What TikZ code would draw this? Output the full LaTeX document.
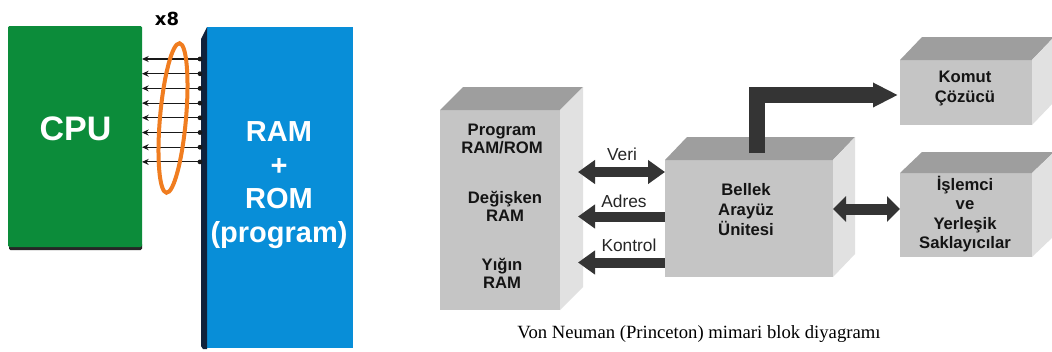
\documentclass[tikz,border=0pt]{standalone}
\usepackage{fontspec}
\setmainfont{Liberation Serif}
\newfontfamily\lsans{Liberation Sans}
\newfontfamily\dvsans{DejaVu Sans}
\usetikzlibrary{arrows.meta,calc}
\definecolor{cpugreen}{RGB}{12,140,58}
\definecolor{ramblue}{RGB}{8,142,216}
\definecolor{stripc}{RGB}{16,34,60}
\definecolor{busorange}{RGB}{240,125,32}
\definecolor{frontc}{RGB}{197,197,197}
\definecolor{topc}{RGB}{158,158,158}
\definecolor{sidec}{RGB}{225,225,225}
\definecolor{arrowc}{RGB}{52,52,52}
\begin{document}
\begin{tikzpicture}[x=0.75pt,y=-0.75pt,
  every node/.style={inner sep=0pt,outer sep=0pt},
  cpubox/.style={fill=cpugreen,rounded corners=1pt},
  rambox/.style={fill=ramblue},
  cputext/.style={text=white,font=\lsans\bfseries\fontsize{25.5pt}{30pt}\selectfont},
  ramtext/.style={text=white,align=center,font=\lsans\bfseries\fontsize{21.75pt}{25.3pt}\selectfont},
  xtext/.style={font=\dvsans\bfseries\fontsize{13.5pt}{16pt}\selectfont},
  bus/.style={draw=black!90,line width=0.8pt,-{Stealth[length=5pt,width=4.5pt]}},
  busring/.style={draw=busorange,line width=3pt},
  face/.style={fill=frontc},
  boxtext/.style={align=center,text=black!92,font=\lsans\bfseries\fontsize{12.5pt}{13.5pt}\selectfont},
  boxtextw/.style={boxtext,font=\lsans\bfseries\fontsize{12.5pt}{15pt}\selectfont},
  lbl/.style={text=black!85,font=\lsans\fontsize{13pt}{15pt}\selectfont},
  thin/.style={draw=arrowc,line width=7.5pt},
  lefttip/.style={thin,-{Triangle[length=12.75pt,width=17.25pt]}},
  bothtip/.style={thin,{Triangle[length=12.75pt,width=17.25pt]}-{Triangle[length=12.75pt,width=17.25pt]}},
  sidetip/.style={draw=arrowc,line width=8.25pt,{Triangle[length=9.75pt,width=18.75pt]}-{Triangle[length=9.75pt,width=18.75pt]}},
  benttip/.style={draw=arrowc,line width=12pt,line join=miter,-{Triangle[length=18.75pt,width=17.25pt]}},
  caption/.style={font=\fontsize{14pt}{16pt}\selectfont}
]
\useasboundingbox (0,0) rectangle (1052,351);
\fill[white] (0,0) rectangle (1052,351);

% ---------------- left: CPU and RAM+ROM ----------------
\fill[black!85,rounded corners=1pt] (9,243) rectangle (142,250);
\node[cpubox,minimum width=100.5pt,minimum height=165.75pt] (cpu) at (75,136.5) {};
\node[cputext] (cputxt) at (75.5,129) {CPU};

\node[rambox,minimum width=109.5pt,minimum height=240.75pt] (ram) at (280,187.5) {};
\fill[stripc] (201,39) -- (ram.north west) -- ([yshift=-0.75pt]ram.south west) -- (203,349) -- (201,346) -- cycle;
\node[ramtext] (ramtxt) at (279,185) {RAM\\+\\ROM\\(program)};

\coordinate (busR) at ($(ram.north west)+(-7,0)$);
\foreach \y in {59,73.7,88.4,103.1,117.8,132.5,147.2,161.9}{
  \draw[bus] (busR |- 0,\y) -- (cpu.east |- 0,\y);
  \fill[black!90] (busR |- 0,\y) circle (1.8pt);
}
\draw[busring] (173,118) ellipse [x radius=13,y radius=75,rotate=-5];
\node[xtext] (x8) at (167,19) {x8};

% ---------------- right: block diagram ----------------
% memory block
\node[face,minimum width=90pt,minimum height=150pt] (mem) at (500,210) {};
\fill[topc] (mem.north west) -- ++(23,-23) -- ($(mem.north east)+(23,-23)$) -- (mem.north east) -- cycle;
\fill[sidec] (mem.north east) -- ++(23,-23) -- ($(mem.south east)+(23,-23)$) -- (mem.south east) -- cycle;
\node[boxtext] (prog) at (502,139) {Program\\RAM/ROM};
\node[boxtext] (degis) at (505,206) {Değişken\\RAM};
\node[boxtext] (yigin) at (502,273.5) {Yığın\\RAM};

% memory interface unit
\node[face,minimum width=126pt,minimum height=87.75pt] (bellek) at (749,218.5) {};
\fill[topc] (bellek.north west) -- ++(22,-23) -- ($(bellek.north east)+(22,-23)$) -- (bellek.north east) -- cycle;
\fill[sidec] (bellek.north east) -- ++(22,-23) -- ($(bellek.south east)+(22,-23)$) -- (bellek.south east) -- cycle;
\node[boxtextw] (bellektxt) at (746,210) {Bellek\\Arayüz\\Ünitesi};

% instruction decoder
\node[face,minimum width=99pt,minimum height=48.75pt] (komut) at (966,92.5) {};
\fill[topc] (komut.north west) -- ++(22,-23) -- ($(komut.north east)+(22,-23)$) -- (komut.north east) -- cycle;
\fill[sidec] (komut.north east) -- ++(22,-23) -- ($(komut.south east)+(22,-23)$) -- (komut.south east) -- cycle;
\node[boxtextw] (komuttxt) at (965,88) {Komut\\Çözücü};

% processor and registers
\node[face,minimum width=99pt,minimum height=63pt] (islem) at (966,215) {};
\fill[topc] (islem.north west) -- ++(22,-21) -- ($(islem.north east)+(22,-21)$) -- (islem.north east) -- cycle;
\fill[sidec] (islem.north east) -- ++(22,-21) -- ($(islem.south east)+(22,-21)$) -- (islem.south east) -- cycle;
\node[boxtext,font=\lsans\bfseries\fontsize{12.5pt}{14.6pt}\selectfont] (islemtxt) at (965,214) {İşlemci\\ve\\Yerleşik\\Saklayıcılar};

% buses
\coordinate (memport) at ($(mem.east)+(18,0)$);
\draw[bothtip] (bellek.west |- 0,172) -- (memport |- 0,172);
\draw[lefttip] (bellek.west |- 0,216.5) -- (memport |- 0,216.5);
\draw[lefttip] (bellek.west |- 0,262.5) -- (memport |- 0,262.5);
\node[lbl] (veri) at (622,154) {Veri};
\node[lbl] (adres) at (624,201.5) {Adres};
\node[lbl] (kontrol) at (629,245) {Kontrol};

\coordinate (bentstart) at ($(bellek.north)+(8,-7)$);
\draw[benttip] (bentstart) |- ($(komut.west)+(-2,2.5)$);
\draw[sidetip] (bellek.east |- 0,209) -- (islem.west |- 0,209);

\node[caption,anchor=base] (cap) at (699,338) {Von Neuman (Princeton) mimari blok diyagramı};
\end{tikzpicture}
\end{document}
